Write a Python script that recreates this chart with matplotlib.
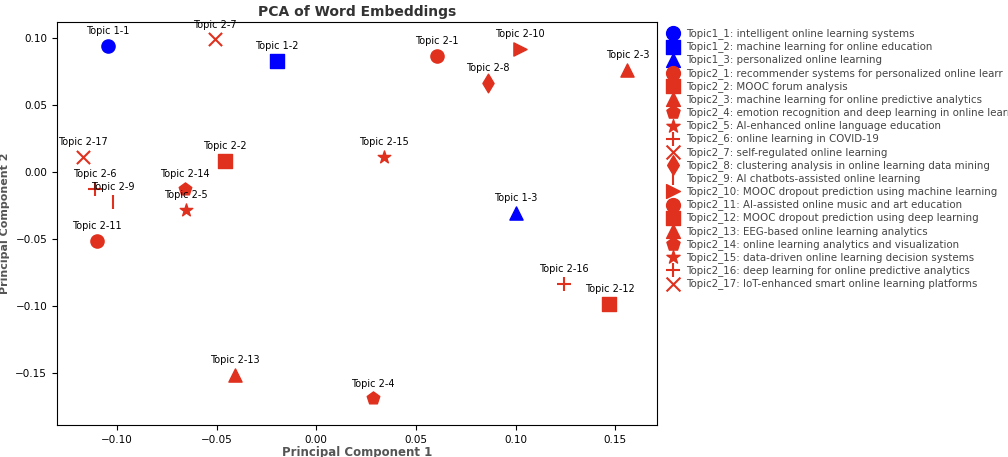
import matplotlib.pyplot as plt

# Données
labels = ["Topic 1-1", "Topic 1-2", "Topic 1-3"] + [f"Topic 2-{i}" for i in range(1, 18)]
legend_names = [
    "Topic1_1: intelligent online learning systems",
    "Topic1_2: machine learning for online education",
    "Topic1_3: personalized online learning",
    "Topic2_1: recommender systems for personalized online learr",
    "Topic2_2: MOOC forum analysis",
    "Topic2_3: machine learning for online predictive analytics",
    "Topic2_4: emotion recognition and deep learning in online learni",
    "Topic2_5: AI-enhanced online language education",
    "Topic2_6: online learning in COVID-19",
    "Topic2_7: self-regulated online learning",
    "Topic2_8: clustering analysis in online learning data mining",
    "Topic2_9: AI chatbots-assisted online learning",
    "Topic2_10: MOOC dropout prediction using machine learning",
    "Topic2_11: AI-assisted online music and art education",
    "Topic2_12: MOOC dropout prediction using deep learning",
    "Topic2_13: EEG-based online learning analytics",
    "Topic2_14: online learning analytics and visualization",
    "Topic2_15: data-driven online learning decision systems",
    "Topic2_16: deep learning for online predictive analytics",
    "Topic2_17: IoT-enhanced smart online learning platforms",
]
pc1 = [-0.1045, -0.0198, 0.100, 0.0604, -0.0459, 0.156, 0.0283, -0.0654, -0.111, -0.0509,
       0.086, -0.102, 0.102, -0.110, 0.147, -0.0409, -0.0659, 0.0338, 0.124, -0.117]
pc2 = [0.094, 0.083, -0.0306, 0.0866, 0.0082, 0.076, -0.169, -0.0284, -0.0127, 0.099,
       0.0664, -0.0224, 0.0918, -0.0515, -0.0985, -0.1515, -0.0127, 0.0112, -0.0836, 0.0112]
markers = ["o", "s", "^", "o", "s", "^", "p", "*", "+", "x",
           "d", "|", ">", "o", "s", "^", "p", "*", "+", "x"]
colors = ["blue"] * 3 + ["#e0301e"] * 17

fig = plt.figure(figsize=(10.08, 4.57), dpi=100)
ax = fig.add_axes([0.0565, 0.07, 0.595, 0.882])

for x, y, m, c, lab, name in zip(pc1, pc2, markers, colors, labels, legend_names):
    lw = 1.5 if m in ["+", "x", "|"] else 1
    ax.scatter(x, y, marker=m, color=c, s=90, label=name, linewidths=lw)
    ax.annotate(lab, (x, y), xytext=(0, 7), textcoords="offset points",
                ha="center", va="bottom", fontsize=7)

ax.set_xlim(-0.130, 0.1707)
ax.set_ylim(-0.189, 0.112)
ax.set_xticks([-0.10, -0.05, 0.00, 0.05, 0.10, 0.15])
ax.set_yticks([-0.15, -0.10, -0.05, 0.00, 0.05, 0.10])
ax.tick_params(labelsize=7.5)
ax.set_title("PCA of Word Embeddings", fontsize=10, fontweight="bold", color="#333333", pad=4)
ax.set_xlabel("Principal Component 1", fontsize=8.5, fontweight="bold", color="#555555", labelpad=1)
ax.set_ylabel("Principal Component 2", fontsize=8, fontweight="bold", color="#555555")

leg = ax.legend(loc="upper left", bbox_to_anchor=(1.0, 1.0), frameon=False,
                fontsize=7.4, handletextpad=0.3, labelspacing=0.22, borderaxespad=0.2,
                markerscale=1.05)
for t in leg.get_texts():
    t.set_color("#444444")

fig.savefig("out.png", dpi=100)
